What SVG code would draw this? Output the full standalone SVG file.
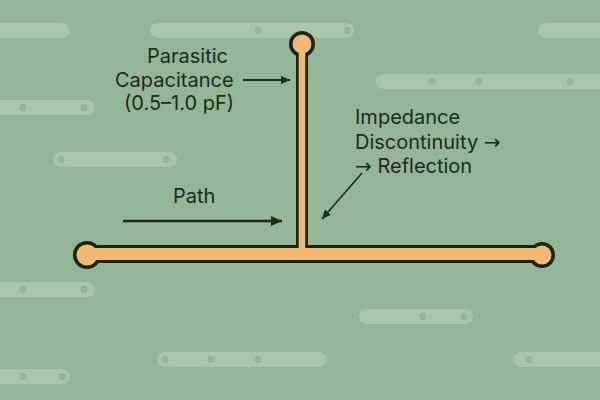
<svg xmlns="http://www.w3.org/2000/svg" width="600" height="400" viewBox="0 0 600 400">
<defs>
<style>
.bar{fill:#a9c6a9;}
.dot{fill:#99b69b;stroke:#8eab90;stroke-width:1;}
.lbl{font-family:Inter,"DejaVu Sans",sans-serif;font-size:20px;fill:#1d2a1f;}
.ar{font-family:"DejaVu Sans",sans-serif;}
.arr{stroke:#1d2a1f;fill:none;}
.dark{stroke:#1b2418;fill:none;stroke-linecap:round;}
.cu{stroke:#f2b874;fill:none;stroke-linecap:round;}
</style>
<marker id="ah" markerUnits="userSpaceOnUse" markerWidth="12" markerHeight="10" refX="11" refY="5" orient="auto">
<path d="M0,0 L11,5 L0,10 Z" fill="#1d2a1f"/>
</marker>
<marker id="ahs" markerUnits="userSpaceOnUse" markerWidth="10" markerHeight="8" refX="9" refY="4" orient="auto">
<path d="M0,0 L9,4 L0,8 Z" fill="#1d2a1f"/>
</marker>
</defs>
<rect width="600" height="400" fill="#94b596"/>
<g id="background-traces">
<rect class="bar" x="-10" y="23" width="80" height="15" rx="7.5"/>
<rect class="bar" x="150" y="23" width="204" height="15" rx="7.5"/>
<circle class="dot" cx="258" cy="30.5" r="3"/><circle class="dot" cx="347" cy="30.5" r="3"/>
<rect class="bar" x="538" y="23" width="80" height="15" rx="7.5"/>
<rect class="bar" x="376" y="74" width="240" height="15" rx="7.5"/>
<circle class="dot" cx="432" cy="81.5" r="3"/><circle class="dot" cx="479" cy="81.5" r="3"/><circle class="dot" cx="570" cy="81.5" r="3"/>
<rect class="bar" x="-10" y="100" width="105" height="15" rx="7.5"/>
<circle class="dot" cx="23" cy="107.5" r="3"/><circle class="dot" cx="84" cy="107.5" r="3"/>
<rect class="bar" x="53" y="152" width="124" height="15" rx="7.5"/>
<circle class="dot" cx="61" cy="159.5" r="3"/><circle class="dot" cx="166" cy="159.5" r="3"/>
<rect class="bar" x="-10" y="282" width="105" height="15" rx="7.5"/>
<circle class="dot" cx="23" cy="289.5" r="3"/><circle class="dot" cx="84" cy="289.5" r="3"/>
<rect class="bar" x="359" y="309" width="114" height="15" rx="7.5"/>
<circle class="dot" cx="423" cy="316.5" r="3"/><circle class="dot" cx="464" cy="316.5" r="3"/>
<rect class="bar" x="157" y="352" width="170" height="15" rx="7.5"/>
<circle class="dot" cx="165" cy="359.5" r="3"/><circle class="dot" cx="211" cy="359.5" r="3"/><circle class="dot" cx="258" cy="359.5" r="3"/>
<rect class="bar" x="513" y="352" width="100" height="15" rx="7.5"/>
<circle class="dot" cx="529" cy="359.5" r="3"/>
<rect class="bar" x="-10" y="369" width="80" height="15" rx="7.5"/>
<circle class="dot" cx="23" cy="376.5" r="3"/><circle class="dot" cx="62" cy="376.5" r="3"/>
</g>
<g id="trace">
<line class="dark" x1="87" y1="254" x2="542" y2="254" stroke-width="18"/>
<line class="dark" x1="302" y1="44" x2="302" y2="250" stroke-width="12"/>
<circle cx="87" cy="255" r="14" fill="#1b2418"/>
<circle cx="542" cy="255" r="13" fill="#1b2418"/>
<circle cx="302" cy="44" r="13" fill="#1b2418"/>
<line class="cu" x1="87" y1="254" x2="542" y2="254" stroke-width="12"/>
<line class="cu" x1="302" y1="44" x2="302" y2="252" stroke-width="6.5"/>
<circle cx="87" cy="255" r="10.5" fill="#f2b874"/>
<circle cx="542" cy="255" r="9.5" fill="#f2b874"/>
<circle cx="302" cy="44" r="9.5" fill="#f2b874"/>
</g>
<g id="connectors">
<line class="arr" x1="243" y1="80" x2="290" y2="80" stroke-width="2" marker-end="url(#ahs)"/>
<line class="arr" x1="123" y1="221" x2="282" y2="221" stroke-width="2.5" marker-end="url(#ah)"/>
<line class="arr" x1="362" y1="173" x2="322" y2="219" stroke-width="1.6" marker-end="url(#ahs)"/>
</g>
<g id="label-capacitance">
<text class="lbl" x="147" y="63">Parasitic</text>
<text class="lbl" x="115" y="87">Capacitance</text>
<text class="lbl" x="124" y="110">(0.5–1.0 pF)</text>
</g>
<g id="label-impedance">
<text class="lbl" x="355" y="124">Impedance</text>
<text class="lbl" x="355" y="149">Discontinuity <tspan class="ar">→</tspan></text>
<text class="lbl" x="355" y="173"><tspan class="ar">→</tspan> Reflection</text>
</g>
<g id="label-path">
<text class="lbl" x="173" y="203">Path</text>
</g>
</svg>
